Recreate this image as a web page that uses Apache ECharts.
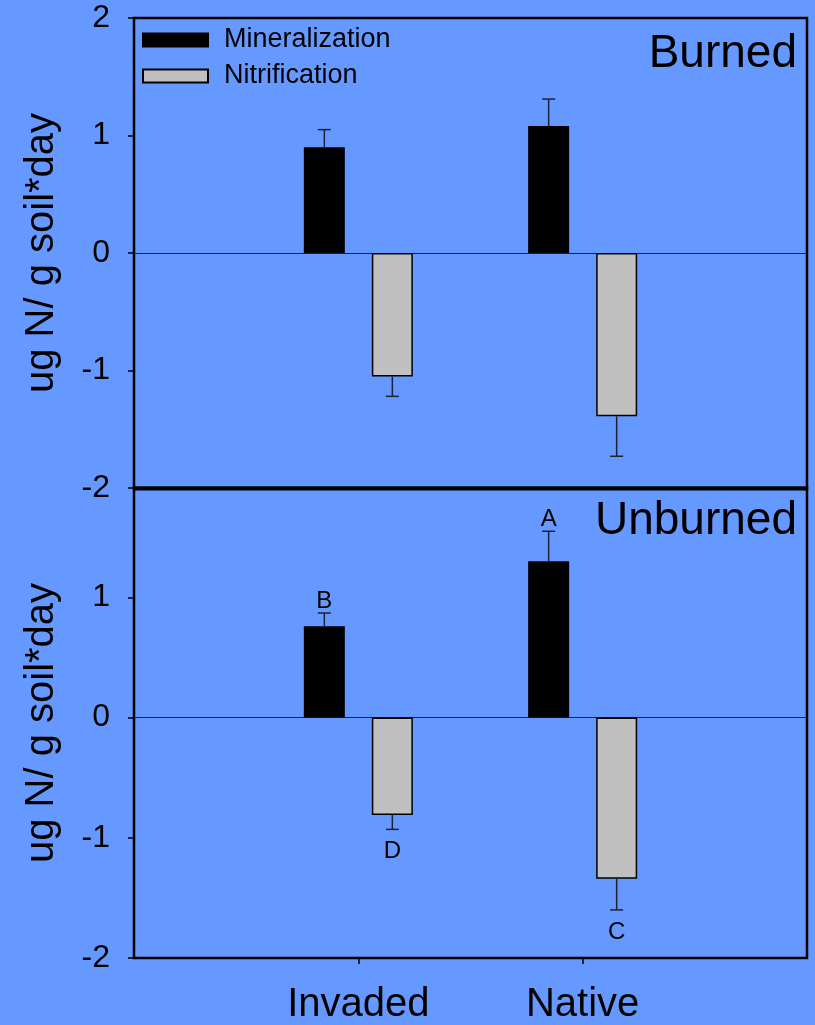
<!DOCTYPE html>
<html>
<head>
<meta charset="utf-8">
<script src="https://cdn.jsdelivr.net/npm/echarts@6/dist/echarts.min.js"></script>
<style>
html,body{margin:0;padding:0;background:#6699FF;}
#chart{width:815px;height:1025px;}
</style>
</head>
<body>
<div id="chart"></div>
<script>
// ---- data ----
const categories = ['Invaded', 'Native'];
const seriesNames = ['Mineralization', 'Nitrification'];
const panelTitles = ['Burned', 'Unburned'];
const yAxisTitle = 'ug N/ g soil*day';

const burnedMin = [0.90, 1.08];
const burnedMinErr = [0.15, 0.23];
const burnedNit = [-1.05, -1.39];
const burnedNitErr = [0.17, 0.34];

const unburnedMin = [0.76, 1.30];
const unburnedMinErr = [0.11, 0.25];
const unburnedNit = [-0.81, -1.34];
const unburnedNitErr = [0.12, 0.26];
const unburnedMinLetters = ['B', 'A'];
const unburnedNitLetters = ['D', 'C'];

const yTicksTop = [-2, -1, 0, 1, 2];
const yTicksBottom = [-2, -1, 0, 1];

// ---- chart ----
const FONT = 'Liberation Sans, Arial, Helvetica, sans-serif';
const BAR_W = 41, BAR_GAP = 27;
const OFF = (BAR_W + BAR_GAP) / 2;
const xCats = [''].concat(categories).concat(['']);
const pad = arr => ['-'].concat(arr).concat(['-']);

function errSeries(vals, errs, offset, letters, gridIdx) {
  return {
    type: 'custom',
    xAxisIndex: gridIdx, yAxisIndex: gridIdx,
    silent: true,
    z: 5,
    data: vals.map((v, i) => [i + 1, v, errs[i]]),
    encode: { x: 0, y: 1 },
    renderItem: function (params, api) {
      const idx = api.value(0), v = api.value(1), e = api.value(2);
      const s = v >= 0 ? 1 : -1;
      const p0 = api.coord([idx, v]);
      const p1 = api.coord([idx, v + s * e]);
      const x = p0[0] + offset;
      const children = [
        { type: 'line', shape: { x1: x, y1: p0[1], x2: x, y2: p1[1] },
          style: { stroke: '#1c2233', lineWidth: 1.5 } },
        { type: 'line', shape: { x1: x - 6.5, y1: p1[1], x2: x + 6.5, y2: p1[1] },
          style: { stroke: '#1c2233', lineWidth: 1.5 } }
      ];
      if (letters) {
        children.push({
          type: 'text',
          style: {
            text: letters[params.dataIndex],
            x: x, y: s > 0 ? p1[1] - 12 : p1[1] + 22,
            align: 'center', verticalAlign: 'middle',
            font: '24px ' + FONT, fill: '#000'
          }
        });
      }
      return { type: 'group', children: children };
    }
  };
}

function barSeries(name, vals, color, gridIdx, withZero) {
  const s = {
    name: name,
    type: 'bar',
    xAxisIndex: gridIdx, yAxisIndex: gridIdx,
    data: pad(vals),
    barWidth: BAR_W,
    barGap: (BAR_GAP / BAR_W * 100).toFixed(1) + '%',
    itemStyle: { color: color, borderColor: '#000', borderWidth: 1.5 },
    silent: true,
    z: 3
  };
  if (withZero) {
    s.markLine = {
      silent: true, symbol: ['none', 'none'], label: { show: false },
      lineStyle: { color: '#1c2233', width: 1.2, type: 'solid' },
      data: [{ yAxis: 0 }],
      z: 2
    };
  }
  return s;
}

const yAxisCommon = {
  type: 'value',
  name: yAxisTitle,
  nameLocation: 'middle',
  nameGap: 72,
  nameTextStyle: { fontSize: 40, color: '#000', fontFamily: FONT },
  axisLine: { show: false },
  axisTick: { show: true, length: 6, lineStyle: { color: '#000', width: 1.5 } },
  axisLabel: { fontSize: 32, color: '#000', fontFamily: FONT, margin: 24 },
  splitLine: { show: false }
};

const chart = echarts.init(document.getElementById('chart'), null, { renderer: 'canvas' });
chart.setOption({
  backgroundColor: '#6699FF',
  animation: false,
  textStyle: { fontFamily: FONT },
  title: [
    { text: panelTitles[0], right: 18, top: 31, padding: 0,
      textStyle: { fontSize: 46, fontWeight: 'normal', color: '#000', fontFamily: FONT } },
    { text: panelTitles[1], right: 18, top: 498, padding: 0,
      textStyle: { fontSize: 46, fontWeight: 'normal', color: '#000', fontFamily: FONT } }
  ],
  legend: {
    data: seriesNames,
    orient: 'vertical',
    left: 142, top: 26,
    padding: 0,
    itemWidth: 65, itemHeight: 13,
    itemGap: 8,
    icon: 'rect',
    selectedMode: false,
    textStyle: { fontSize: 27, color: '#000', fontFamily: FONT, padding: [0, 0, 0, 11], lineHeight: 28 }
  },
  graphic: [
    { type: 'rect', shape: { x: 134, y: 486.5, width: 673, height: 4 }, style: { fill: '#000' }, silent: true, z: 10 }
  ],
  grid: [
    { left: 134, right: 8, top: 18, height: 470, show: true, borderColor: '#000', borderWidth: 2.5, backgroundColor: 'transparent' },
    { left: 134, right: 8, top: 488, height: 471, show: true, borderColor: '#000', borderWidth: 2.5, backgroundColor: 'transparent' }
  ],
  xAxis: [
    { type: 'category', gridIndex: 0, data: xCats, boundaryGap: false,
      axisLine: { show: false }, axisTick: { show: false }, axisLabel: { show: false } },
    { type: 'category', gridIndex: 1, data: xCats, boundaryGap: false,
      axisLine: { show: false, onZero: false },
      axisTick: { show: true, length: 6, interval: (i) => i === 1 || i === 2, lineStyle: { color: '#000', width: 1.5 } },
      axisLabel: { show: true, interval: (i) => i === 1 || i === 2, fontSize: 40, color: '#000', fontFamily: FONT, margin: 27 } }
  ],
  yAxis: [
    Object.assign({}, yAxisCommon, { gridIndex: 0, min: -2, max: 2, interval: 1 }),
    Object.assign({}, yAxisCommon, { gridIndex: 1, min: -2, max: 1.91, interval: 1,
      axisTick: Object.assign({}, yAxisCommon.axisTick, { customValues: yTicksBottom }),
      axisLabel: Object.assign({}, yAxisCommon.axisLabel, { customValues: yTicksBottom }) })
  ],
  series: [
    barSeries(seriesNames[0], burnedMin, '#000000', 0, true),
    barSeries(seriesNames[1], burnedNit, '#C0C0C0', 0, false),
    barSeries(seriesNames[0], unburnedMin, '#000000', 1, true),
    barSeries(seriesNames[1], unburnedNit, '#C0C0C0', 1, false),
    errSeries(burnedMin, burnedMinErr, -OFF, null, 0),
    errSeries(burnedNit, burnedNitErr, OFF, null, 0),
    errSeries(unburnedMin, unburnedMinErr, -OFF, unburnedMinLetters, 1),
    errSeries(unburnedNit, unburnedNitErr, OFF, unburnedNitLetters, 1)
  ]
});
</script>
</body>
</html>
